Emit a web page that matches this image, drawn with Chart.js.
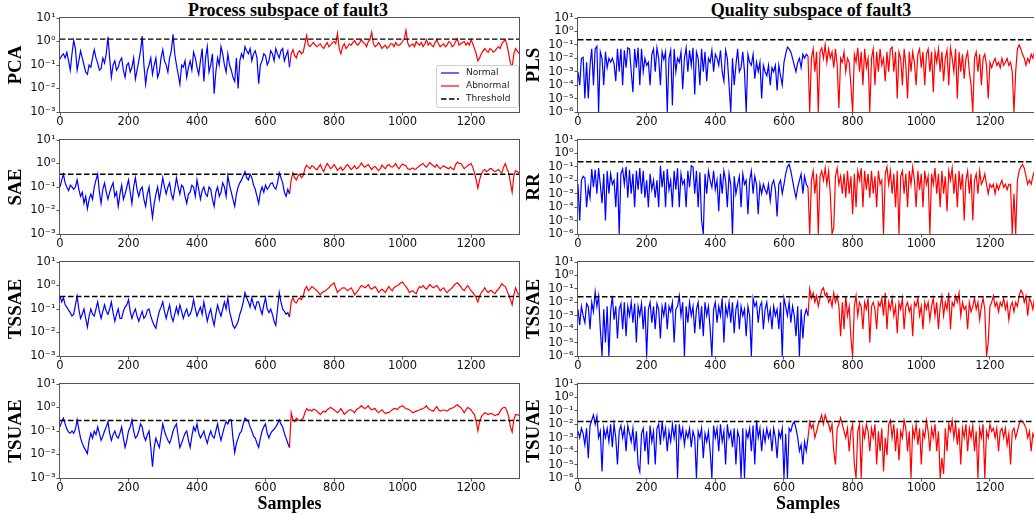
<!DOCTYPE html>
<html>
<head>
<meta charset="utf-8">
<script src="https://cdn.jsdelivr.net/npm/chart.js@4.4.1/dist/chart.umd.min.js"></script>
<style>
  html, body { margin: 0; padding: 0; background: #fff; }
  body { width: 1034px; height: 516px; position: relative; overflow: hidden; }
  canvas { position: absolute; }
  .coltitle {
    position: absolute; top: 0; width: 400px; text-align: center;
    font: bold 18px "Liberation Serif", "Times New Roman", serif; line-height: 20px; color: #000;
  }
</style>
</head>
<body>
<div class="coltitle" style="left:88px">Process subspace of fault3</div>
<div class="coltitle" style="left:611px">Quality subspace of fault3</div>
<script>
// axis ticks
const xTicks = [0, 200, 400, 600, 800, 1000, 1200];
const processTicks = [1e-3, 1e-2, 1e-1, 1, 10];
const processTickLabels = ['10⁻³', '10⁻²', '10⁻¹', '10⁰', '10¹'];
const qualityTicks = [1e-6, 1e-5, 1e-4, 1e-3, 1e-2, 1e-1, 1, 10];
const qualityTickLabels = ['10⁻⁶', '10⁻⁵', '10⁻⁴', '10⁻³', '10⁻²', '10⁻¹', '10⁰', '10¹'];
const sampleMax = 1340;
const faultStart = 670;
const sampleStep = 5;   // one stored value every 5 samples

// control limits
const pcaLimit = 1.26, saeLimit = 0.35, tssaeLimit = 0.34, tsuaeLimit = 0.28;
const plsLimit = 0.24, rrLimit = 0.24, tssaeQLimit = 0.026, tsuaeQLimit = 0.016;

// process subspace statistics
const pcaNormal = [
  0.18, 0.25, 0.3, 0.2, 0.35, 0.15, 0.06, 0.3, 1.1, 0.5,
  0.06, 0.15, 0.4, 0.2, 0.1, 0.05, 0.04, 0.1, 0.08, 0.2,
  0.45, 0.2, 0.12, 0.06, 0.07, 0.2, 0.12, 0.3, 1.6, 0.2,
  0.03, 0.1, 0.15, 0.06, 0.08, 0.15, 0.2, 0.06, 0.03, 0.1,
  0.12, 0.05, 0.08, 0.2, 0.025, 0.06, 0.15, 0.4, 1.7, 0.1,
  0.015, 0.06, 0.1, 0.2, 0.04, 0.1, 0.2, 0.03, 0.05, 0.2,
  0.45, 0.15, 0.1, 0.05, 0.2, 0.4, 2.0, 0.3, 0.1, 0.04,
  0.015, 0.1, 0.08, 0.15, 0.03, 0.08, 0.15, 0.06, 0.35, 0.2,
  0.08, 0.04, 0.15, 0.5, 0.02, 0.2, 0.6, 0.05, 0.1, 0.3,
  0.006, 0.05, 0.2, 0.1, 0.6, 0.3, 0.1, 0.05, 0.3, 0.1,
  0.06, 0.03, 0.02, 0.2, 0.01, 0.15, 0.3, 0.2, 0.6, 0.4,
  0.3, 0.5, 0.15, 0.3, 0.4, 0.2, 0.016, 0.1, 0.15, 0.3,
  0.25, 0.1, 0.15, 0.4, 0.3, 0.15, 0.5, 0.3, 0.2, 0.4,
  0.5, 0.15, 0.25, 0.4, 0.08
];
const pcaAbnormal = [
  0.08, 0.3, 0.45, 0.25, 0.2, 0.35, 0.4, 0.3, 0.35, 0.8,
  1.8, 0.7, 0.6, 0.75, 0.9, 0.7, 0.6, 0.7, 0.8, 0.6,
  0.5, 0.7, 0.9, 0.6, 0.7, 0.9, 1.0, 0.8, 2.2, 0.5,
  0.3, 0.6, 0.8, 0.5, 0.6, 0.8, 0.7, 0.9, 1.1, 0.8,
  0.7, 0.9, 1.2, 0.9, 0.8, 0.6, 1.0, 1.2, 2.5, 0.8,
  0.6, 0.7, 0.9, 0.7, 0.5, 0.6, 0.7, 0.5, 0.6, 0.8,
  0.8, 0.6, 0.9, 0.7, 0.7, 0.8, 1.0, 1.3, 3.0, 0.9,
  0.6, 0.7, 0.8, 0.6, 1.0, 0.8, 0.7, 0.9, 0.6, 0.8,
  1.2, 0.7, 0.9, 0.7, 0.6, 0.9, 1.2, 0.8, 0.6, 0.7,
  0.8, 0.6, 0.7, 1.0, 0.9, 0.6, 0.7, 1.0, 1.3, 0.7,
  0.8, 0.9, 1.0, 0.7, 0.9, 0.7, 1.2, 0.8, 0.5, 0.3,
  0.15, 0.2, 0.3, 0.4, 0.5, 0.4, 0.35, 0.5, 0.45, 0.35,
  0.4, 0.5, 0.6, 0.5, 0.8, 1.0, 1.2, 0.7, 0.3, 0.12,
  0.08, 0.3, 0.5, 0.4, 0.3
];
const saeNormal = [
  0.1, 0.2, 0.35, 0.15, 0.1, 0.07, 0.12, 0.1, 0.08, 0.1,
  0.2, 0.08, 0.04, 0.06, 0.02, 0.04, 0.012, 0.03, 0.05, 0.03,
  0.1, 0.2, 0.35, 0.06, 0.02, 0.08, 0.15, 0.06, 0.03, 0.06,
  0.1, 0.15, 0.04, 0.06, 0.015, 0.05, 0.12, 0.03, 0.05, 0.1,
  0.2, 0.06, 0.02, 0.1, 0.25, 0.08, 0.04, 0.08, 0.1, 0.03,
  0.015, 0.05, 0.1, 0.02, 0.005, 0.02, 0.05, 0.1, 0.03, 0.08,
  0.25, 0.1, 0.05, 0.1, 0.15, 0.05, 0.03, 0.08, 0.25, 0.1,
  0.05, 0.12, 0.1, 0.04, 0.02, 0.05, 0.06, 0.12, 0.1, 0.04,
  0.2, 0.08, 0.03, 0.07, 0.1, 0.05, 0.04, 0.1, 0.08, 0.03,
  0.015, 0.06, 0.1, 0.04, 0.06, 0.15, 0.1, 0.04, 0.3, 0.12,
  0.06, 0.03, 0.015, 0.05, 0.1, 0.15, 0.2, 0.3, 0.45, 0.25,
  0.2, 0.35, 0.25, 0.12, 0.08, 0.04, 0.02, 0.06, 0.1, 0.06,
  0.12, 0.08, 0.1, 0.14, 0.15, 0.1, 0.08, 0.15, 0.4, 0.25,
  0.15, 0.06, 0.04, 0.08, 0.05
];
const saeAbnormal = [
  0.05, 0.2, 0.4, 0.25, 0.2, 0.3, 0.35, 0.25, 0.3, 0.6,
  0.85, 0.7, 0.6, 0.8, 0.75, 0.6, 0.55, 0.7, 0.9, 0.6,
  0.45, 0.7, 1.0, 0.8, 0.6, 0.7, 0.9, 0.7, 0.5, 0.6,
  0.7, 0.5, 0.6, 0.8, 0.9, 0.7, 0.55, 0.65, 0.8, 0.6,
  0.65, 0.8, 1.05, 0.8, 0.7, 0.8, 0.9, 0.7, 0.55, 0.7,
  0.75, 0.6, 0.5, 0.6, 0.85, 0.7, 0.6, 0.8, 0.9, 0.75,
  0.7, 0.8, 1.0, 0.7, 0.6, 0.8, 0.95, 0.85, 0.8, 0.6,
  0.55, 0.6, 0.65, 0.55, 0.6, 0.7, 0.8, 0.9, 1.0, 0.8,
  0.7, 0.9, 1.1, 0.9, 0.8, 0.7, 0.9, 0.7, 0.6, 0.7,
  0.8, 0.7, 0.65, 0.6, 0.7, 0.6, 0.55, 0.9, 1.15, 1.0,
  1.0, 0.8, 0.6, 0.7, 0.8, 0.9, 1.0, 0.7, 0.4, 0.2,
  0.09, 0.2, 0.35, 0.5, 0.55, 0.45, 0.5, 0.6, 0.6, 0.5,
  0.45, 0.5, 0.55, 0.45, 0.4, 0.7, 1.0, 0.6, 0.4, 0.15,
  0.06, 0.3, 0.5, 0.45, 0.4
];
const tssaeNormal = [
  0.35, 0.2, 0.3, 0.15, 0.12, 0.09, 0.07, 0.05, 0.06, 0.15,
  0.35, 0.1, 0.04, 0.06, 0.1, 0.04, 0.017, 0.05, 0.1, 0.06,
  0.05, 0.1, 0.2, 0.08, 0.04, 0.08, 0.15, 0.08, 0.06, 0.1,
  0.2, 0.07, 0.03, 0.06, 0.1, 0.04, 0.04, 0.08, 0.12, 0.15,
  0.25, 0.08, 0.04, 0.07, 0.1, 0.05, 0.03, 0.05, 0.08, 0.04,
  0.05, 0.09, 0.1, 0.05, 0.03, 0.02, 0.015, 0.04, 0.08, 0.12,
  0.2, 0.08, 0.04, 0.08, 0.15, 0.05, 0.03, 0.06, 0.12, 0.06,
  0.15, 0.08, 0.04, 0.07, 0.1, 0.05, 0.06, 0.1, 0.25, 0.1,
  0.05, 0.08, 0.12, 0.06, 0.2, 0.08, 0.03, 0.06, 0.1, 0.04,
  0.02, 0.06, 0.15, 0.08, 0.05, 0.1, 0.2, 0.1, 0.3, 0.08,
  0.04, 0.02, 0.015, 0.02, 0.03, 0.06, 0.1, 0.2, 0.5, 0.3,
  0.2, 0.12, 0.3, 0.15, 0.1, 0.2, 0.2, 0.1, 0.06, 0.15,
  0.3, 0.1, 0.07, 0.1, 0.06, 0.03, 0.02, 0.1, 0.5, 0.2,
  0.1, 0.08, 0.06, 0.07, 0.045
];
const tssaeAbnormal = [
  0.045, 0.2, 0.3, 0.2, 0.18, 0.25, 0.3, 0.25, 0.35, 0.7,
  0.9, 0.6, 0.7, 0.9, 0.8, 0.7, 0.6, 0.5, 0.4, 0.5,
  0.55, 0.6, 0.7, 0.8, 1.0, 1.1, 1.3, 0.8, 0.5, 0.6,
  0.7, 0.8, 0.8, 0.7, 0.6, 0.7, 0.8, 0.6, 0.4, 0.5,
  0.6, 0.8, 1.0, 0.9, 0.8, 0.9, 1.1, 0.8, 0.7, 0.8,
  0.9, 0.7, 0.5, 0.6, 0.7, 0.6, 0.5, 0.7, 0.9, 0.7,
  0.6, 0.8, 0.9, 1.0, 1.1, 1.3, 1.4, 1.1, 0.9, 0.7,
  0.5, 0.55, 0.6, 0.5, 0.45, 0.7, 0.9, 0.8, 1.0, 0.8,
  0.7, 0.9, 1.1, 0.9, 0.8, 0.9, 1.0, 0.8, 0.6, 0.7,
  0.8, 0.6, 0.5, 0.6, 0.7, 0.8, 1.0, 1.2, 1.3, 1.1,
  0.9, 0.7, 0.6, 0.8, 1.0, 0.8, 0.6, 0.5, 0.4, 0.3,
  0.2, 0.35, 0.5, 0.6, 0.8, 0.6, 0.5, 0.6, 0.6, 0.5,
  0.45, 0.6, 0.7, 0.9, 1.2, 1.0, 0.9, 0.6, 0.4, 0.25,
  0.15, 0.4, 0.8, 0.5, 0.4
];
const tsuaeNormal = [
  0.15, 0.25, 0.35, 0.2, 0.12, 0.09, 0.08, 0.1, 0.08, 0.12,
  0.3, 0.12, 0.05, 0.03, 0.02, 0.015, 0.011, 0.04, 0.08, 0.05,
  0.1, 0.07, 0.15, 0.08, 0.04, 0.06, 0.1, 0.15, 0.25, 0.08,
  0.04, 0.07, 0.1, 0.06, 0.05, 0.08, 0.15, 0.05, 0.02, 0.04,
  0.1, 0.15, 0.3, 0.1, 0.05, 0.06, 0.1, 0.2, 0.15, 0.06,
  0.04, 0.07, 0.1, 0.02, 0.003, 0.02, 0.05, 0.03, 0.02, 0.06,
  0.2, 0.1, 0.06, 0.04, 0.03, 0.05, 0.1, 0.15, 0.2, 0.06,
  0.02, 0.03, 0.05, 0.08, 0.1, 0.04, 0.02, 0.06, 0.15, 0.1,
  0.2, 0.08, 0.05, 0.07, 0.1, 0.05, 0.03, 0.06, 0.1, 0.06,
  0.05, 0.1, 0.2, 0.08, 0.04, 0.08, 0.15, 0.25, 0.2, 0.3,
  0.3, 0.05, 0.012, 0.03, 0.05, 0.08, 0.1, 0.2, 0.35, 0.3,
  0.25, 0.15, 0.1, 0.06, 0.05, 0.03, 0.02, 0.05, 0.1, 0.15,
  0.2, 0.08, 0.05, 0.08, 0.1, 0.12, 0.15, 0.2, 0.3, 0.2,
  0.15, 0.08, 0.05, 0.03, 0.02
];
const tsuaeAbnormal = [
  0.02, 0.6, 0.3, 0.25, 0.35, 0.3, 0.28, 0.3, 0.35, 0.6,
  0.9, 0.75, 0.8, 0.7, 0.85, 0.8, 0.7, 0.6, 0.5, 0.6,
  0.7, 0.65, 0.8, 0.9, 1.0, 0.9, 0.8, 0.7, 0.6, 0.7,
  0.9, 0.7, 0.5, 0.6, 0.7, 0.8, 0.8, 0.7, 0.6, 0.8,
  0.9, 1.0, 1.2, 1.0, 0.9, 1.0, 1.2, 0.9, 0.8, 0.85,
  0.9, 0.7, 0.6, 0.7, 0.8, 0.65, 0.55, 0.6, 0.6, 0.7,
  0.8, 0.9, 0.9, 0.8, 1.0, 1.1, 1.2, 1.0, 0.9, 0.85,
  0.8, 0.7, 0.6, 0.65, 0.7, 0.75, 0.8, 0.85, 0.9, 1.0,
  1.2, 0.9, 0.8, 0.75, 0.7, 0.9, 1.1, 0.8, 0.7, 0.75,
  0.8, 0.75, 0.7, 0.8, 0.9, 0.95, 1.0, 1.2, 1.3, 1.1,
  1.0, 0.8, 0.6, 0.8, 1.0, 0.9, 0.8, 0.6, 0.5, 0.25,
  0.1, 0.25, 0.4, 0.5, 0.6, 0.55, 0.5, 0.55, 0.55, 0.5,
  0.45, 0.5, 0.5, 0.7, 0.9, 1.0, 1.0, 0.7, 0.4, 0.15,
  0.09, 0.3, 0.5, 0.5, 0.45
];

// quality subspace statistics
const plsNormal = [
  1e-3, 1e-4, 1e-2, 1.2e-2, 1e-5, 5e-3, 1e-5, 3e-3, 5e-2, 1e-4,
  5e-2, 8e-2, 1e-6, 3e-2, 1e-2, 1e-4, 3e-2, 2e-3, 1e-2, 5e-3,
  1e-2, 4e-3, 2e-4, 5e-2, 1e-3, 5e-2, 1e-4, 4e-2, 2e-3, 6e-2,
  5e-2, 1e-3, 3e-5, 5e-2, 2e-3, 6e-2, 1e-4, 5e-2, 1e-3, 1e-2,
  3e-3, 5e-3, 1e-4, 2e-2, 5e-2, 1e-3, 6e-2, 1e-2, 1e-4, 3e-2,
  8e-3, 3e-2, 1e-6, 1e-2, 4e-2, 3e-6, 5e-2, 1e-3, 1e-2, 5e-3,
  3e-2, 5e-5, 1e-2, 6e-2, 1e-3, 4e-2, 3e-3, 6e-2, 2e-5, 3e-2,
  1e-2, 1e-4, 5e-2, 1e-3, 3e-2, 2e-4, 1e-2, 5e-3, 4e-2, 1e-3,
  2e-2, 1e-2, 3e-3, 4e-2, 1e-3, 2e-4, 4e-2, 1e-2, 1e-4, 1e-6,
  1e-2, 1e-4, 3e-3, 5e-2, 1e-3, 2e-3, 3e-2, 1e-3, 1e-6, 2e-2,
  5e-3, 3e-3, 2e-2, 3e-4, 5e-3, 1e-3, 5e-3, 1e-5, 3e-3, 1e-3,
  5e-4, 3e-3, 1e-4, 2e-3, 1e-3, 3e-3, 4e-5, 3e-3, 5e-4, 1e-4,
  5e-3, 2e-2, 7e-2, 5e-2, 3e-2, 1e-2, 3e-3, 1e-3, 5e-3, 1e-2,
  2e-3, 2e-2, 1e-2, 2e-2, 1.5e-2
];
const plsAbnormal = [
  1.5e-2, 1e-6, 1e-2, 5e-2, 1e-3, 3e-2, 1e-6, 3e-2, 6e-2, 1e-2,
  1e-1, 5e-3, 5e-2, 1e-2, 3e-2, 2e-3, 5e-2, 3e-3, 2e-6, 1e-2,
  5e-3, 3e-2, 1e-3, 1e-2, 5e-3, 1e-4, 1e-6, 2e-2, 5e-3, 6e-2,
  1e-3, 3e-2, 1e-4, 5e-2, 2e-3, 1e-2, 1e-6, 1e-2, 5e-2, 1e-4,
  3e-2, 1e-3, 5e-2, 3e-3, 1e-2, 2e-4, 3e-2, 1e-3, 5e-2, 7e-2,
  1e-3, 3e-2, 1e-5, 3e-2, 1e-2, 1e-4, 5e-2, 3e-3, 1e-5, 3e-2,
  1e-3, 3e-2, 5e-3, 1e-4, 2e-2, 5e-2, 2e-3, 3e-2, 1e-4, 2e-2,
  5e-2, 1e-3, 3e-2, 3e-5, 3e-2, 5e-3, 5e-2, 1e-3, 3e-2, 2e-4,
  1e-2, 4e-2, 1e-4, 6e-2, 1e-2, 1e-3, 5e-2, 1e-5, 3e-2, 1e-3,
  2e-2, 3e-4, 1e-2, 3e-2, 1e-3, 1e-4, 1e-6, 1e-2, 3e-2, 1e-3,
  2e-2, 1e-4, 1e-2, 2e-2, 3e-3, 1e-5, 5e-3, 2e-3, 5e-3, 1e-2,
  3e-3, 5e-3, 2e-3, 1e-2, 3e-3, 5e-3, 1e-2, 3e-3, 5e-3, 1e-3,
  1e-6, 1e-3, 5e-2, 1e-1, 5e-2, 2e-2, 1e-2, 3e-3, 1e-2, 5e-3,
  2e-2, 1e-2, 3e-2, 2e-2, 3e-2
];
const rrNormal = [
  5e-3, 1e-5, 1e-2, 2e-2, 1.5e-2, 1e-4, 3e-3, 5e-4, 7e-2, 3e-3,
  6e-2, 1e-3, 8e-2, 5e-3, 2e-4, 3e-2, 1e-5, 5e-2, 1e-3, 3e-2,
  5e-3, 1e-2, 1e-4, 4e-2, 1e-6, 3e-2, 7e-2, 5e-3, 1e-1, 5e-4,
  6e-2, 1e-3, 3e-2, 1e-4, 5e-2, 2e-3, 8e-2, 1e-3, 5e-2, 5e-4,
  1e-2, 1e-4, 3e-2, 2e-3, 1e-2, 5e-4, 1e-2, 1e-4, 1.2e-1, 3e-3,
  5e-2, 1e-4, 7e-2, 2e-3, 1e-2, 1e-4, 5e-2, 2e-3, 8e-2, 1e-4,
  3e-2, 5e-3, 1e-2, 1e-4, 5e-2, 3e-3, 1.2e-1, 1e-1, 1e-3, 5e-2,
  1e-4, 4e-2, 1e-5, 1e-6, 3e-2, 1e-3, 5e-2, 1e-2, 3e-3, 5e-2,
  2e-3, 1e-2, 5e-5, 3e-2, 1e-3, 5e-2, 1e-2, 1e-4, 3e-2, 5e-3,
  1e-6, 2e-2, 1e-3, 5e-3, 2e-2, 1e-4, 3e-2, 5e-3, 1e-2, 3e-5,
  1e-2, 5e-2, 1e-3, 2e-2, 5e-3, 3e-5, 5e-3, 1e-3, 5e-3, 2e-3,
  1e-3, 5e-3, 3e-4, 5e-3, 1e-2, 2e-3, 2e-5, 5e-3, 1e-2, 1e-3,
  5e-3, 3e-2, 1e-1, 1.5e-1, 5e-2, 1e-2, 2e-3, 5e-4, 3e-3, 1e-2,
  3e-2, 1e-3, 2e-2, 5e-3, 3e-3
];
const rrAbnormal = [
  3e-3, 1e-6, 1e-2, 5e-2, 1e-3, 3e-2, 1e-6, 2e-2, 5e-2, 1e-2,
  8e-2, 5e-3, 5e-2, 1e-3, 1e-6, 3e-6, 2e-2, 8e-2, 5e-3, 2e-2,
  1e-3, 3e-2, 5e-4, 5e-2, 1e-3, 2e-2, 3e-5, 3e-2, 1e-4, 5e-2,
  1e-2, 8e-2, 1e-4, 5e-2, 2e-3, 3e-2, 5e-4, 5e-2, 1e-3, 2e-2,
  1e-4, 5e-2, 5e-3, 1e-2, 1e-6, 3e-2, 1e-1, 5e-3, 5e-2, 1e-3,
  3e-2, 1e-4, 5e-2, 1e-6, 2e-2, 5e-2, 1e-3, 3e-2, 1e-4, 5e-2,
  5e-3, 1e-1, 1e-2, 1e-4, 5e-2, 2e-3, 3e-2, 1e-4, 5e-2, 5e-3,
  2e-2, 1e-6, 3e-2, 5e-3, 8e-2, 1e-3, 3e-2, 1e-4, 5e-2, 1e-3,
  2e-2, 5e-5, 5e-2, 1e-2, 8e-2, 1e-3, 3e-2, 1e-4, 5e-2, 2e-3,
  3e-2, 1e-5, 1e-2, 5e-2, 1e-3, 3e-2, 1e-5, 1e-2, 3e-2, 1e-3,
  5e-2, 5e-3, 1e-2, 3e-2, 5e-3, 1e-3, 5e-3, 3e-3, 5e-3, 1e-3,
  5e-3, 2e-3, 5e-3, 1e-2, 3e-3, 5e-3, 2e-3, 5e-3, 5e-3, 1e-6,
  1e-3, 1e-6, 1e-2, 5e-2, 1e-1, 1.5e-1, 8e-2, 2e-2, 5e-3, 1e-2,
  5e-3, 2e-2, 5e-2, 2e-2, 4e-2
];
const tssaeQNormal = [
  3e-3, 2e-4, 5e-3, 1e-3, 3e-4, 8e-3, 5e-3, 1e-4, 1e-2, 2e-3,
  6e-2, 5e-3, 3e-2, 1e-4, 1e-6, 3e-3, 1e-5, 5e-3, 1e-6, 2e-3,
  3e-2, 5e-4, 5e-3, 2e-5, 3e-3, 8e-3, 1e-4, 1e-2, 3e-5, 5e-3,
  1e-3, 1e-2, 3e-4, 8e-3, 1e-5, 5e-3, 1e-3, 8e-3, 1e-4, 5e-3,
  1e-6, 3e-3, 1e-2, 3e-4, 5e-3, 1e-4, 8e-3, 3e-3, 2e-5, 5e-3,
  1e-3, 1e-2, 1e-4, 5e-3, 2e-3, 1e-2, 1e-5, 3e-3, 5e-3, 3e-2,
  1e-3, 1e-2, 1e-6, 5e-3, 3e-4, 1e-2, 1e-3, 5e-3, 5e-5, 3e-3,
  1e-2, 1e-4, 5e-3, 3e-5, 1e-2, 1e-3, 5e-3, 1e-4, 1e-6, 3e-3,
  1e-2, 3e-4, 5e-3, 1e-3, 2e-2, 1e-5, 5e-3, 1e-3, 1e-2, 3e-4,
  1e-2, 5e-5, 3e-3, 1e-2, 1e-4, 5e-3, 1e-3, 3e-3, 3e-5, 5e-3,
  1e-3, 1e-6, 2e-2, 5e-3, 1e-2, 3e-4, 5e-3, 1e-2, 1e-4, 3e-3,
  1e-2, 5e-4, 3e-3, 1e-4, 5e-3, 1e-3, 3e-3, 1e-4, 1e-2, 1e-6,
  2e-2, 5e-3, 1e-3, 1e-2, 3e-4, 5e-3, 1e-3, 3e-5, 5e-3, 1e-6,
  3e-3, 2e-5, 1e-3, 3e-3, 1e-3
];
const tssaeQAbnormal = [
  1e-3, 1e-1, 2e-2, 5e-2, 1e-2, 3e-2, 5e-3, 2e-2, 8e-2, 1.2e-1,
  3e-2, 5e-2, 1e-2, 2e-2, 5e-3, 5e-2, 1e-2, 3e-2, 5e-3, 3e-5,
  1e-2, 1e-4, 3e-2, 1e-3, 5e-3, 2e-5, 1e-6, 5e-3, 3e-2, 1e-3,
  1e-2, 5e-3, 1e-4, 1e-2, 3e-3, 2e-2, 1e-5, 5e-3, 1e-2, 3e-3,
  1e-4, 1e-2, 5e-3, 2e-2, 1e-3, 5e-2, 1e-4, 1e-2, 3e-3, 2e-2,
  1e-3, 5e-3, 5e-5, 1e-2, 3e-3, 2e-2, 1e-4, 5e-3, 1e-2, 2e-3,
  5e-3, 3e-5, 1e-2, 5e-3, 2e-2, 1e-3, 5e-3, 1e-4, 1e-2, 3e-3,
  1e-2, 5e-4, 5e-3, 2e-2, 1e-3, 1e-2, 1e-4, 5e-3, 3e-2, 1e-3,
  1e-2, 3e-3, 5e-2, 1e-4, 1e-2, 5e-3, 3e-2, 1e-2, 5e-2, 1e-3,
  1e-2, 3e-3, 5e-3, 1e-4, 1e-2, 2e-3, 5e-3, 2e-2, 3e-3, 1e-2,
  5e-4, 5e-3, 2e-2, 3e-3, 1e-6, 1e-5, 5e-3, 1e-2, 3e-2, 5e-3,
  1e-2, 2e-3, 1e-2, 5e-3, 2e-2, 3e-3, 1e-2, 5e-4, 5e-3, 1e-2,
  2e-3, 1e-2, 5e-3, 3e-2, 8e-2, 5e-2, 1e-2, 3e-2, 1e-3, 2e-2,
  1e-2, 3e-3, 2e-2, 3e-2, 1e-2
];
const tsuaeQNormal = [
  3e-3, 1e-3, 5e-3, 2e-3, 3e-4, 5e-3, 3e-5, 8e-3, 2e-2, 5e-2,
  1e-2, 4e-2, 1e-3, 3e-3, 3e-6, 5e-3, 1e-3, 5e-3, 5e-4, 1e-2,
  2e-4, 1e-2, 1e-3, 1e-5, 3e-3, 8e-3, 1e-3, 5e-3, 1e-4, 8e-3,
  2e-3, 5e-4, 5e-3, 1e-4, 3e-3, 1e-5, 3e-6, 2e-3, 5e-3, 1e-4,
  3e-3, 1e-5, 8e-3, 5e-4, 3e-3, 1e-5, 5e-3, 1e-2, 3e-4, 1.5e-2,
  1e-3, 5e-3, 1e-4, 3e-3, 5e-4, 1e-2, 1e-3, 1e-2, 1e-6, 1e-2,
  1e-3, 5e-3, 3e-4, 3e-3, 1e-3, 5e-3, 2e-4, 3e-3, 1e-3, 1e-6,
  3e-3, 1e-3, 5e-3, 3e-5, 2e-3, 5e-4, 3e-3, 1e-4, 1e-6, 8e-3,
  1e-3, 5e-3, 1e-4, 1e-2, 5e-4, 3e-3, 1e-5, 1e-2, 1e-3, 3e-3,
  2e-4, 5e-3, 1e-5, 3e-3, 1e-3, 1e-6, 5e-3, 1e-6, 3e-3, 1e-3,
  5e-3, 1e-4, 8e-3, 1e-5, 2e-2, 1e-3, 5e-3, 1e-4, 3e-3, 5e-4,
  5e-3, 1e-3, 3e-3, 1e-4, 5e-3, 1e-3, 3e-5, 3e-3, 1e-3, 5e-3,
  1e-6, 2e-3, 1e-6, 5e-3, 3e-3, 1e-2, 1.5e-2, 5e-3, 1e-3, 1e-4,
  3e-4, 1e-5, 5e-4, 1e-4, 1e-3
];
const tsuaeQAbnormal = [
  1e-3, 1.5e-2, 5e-3, 1e-2, 1e-3, 3e-3, 1e-2, 2e-2, 5e-2, 1e-2,
  5e-2, 2e-2, 1e-2, 3e-3, 1e-2, 1e-4, 1e-5, 5e-3, 1e-2, 3e-2,
  1e-2, 3e-3, 1e-3, 5e-3, 1e-4, 3e-3, 1e-2, 1e-5, 1e-6, 3e-3,
  1e-2, 1e-6, 5e-3, 1e-3, 1e-2, 3e-3, 1e-4, 5e-3, 1e-3, 1e-2,
  1e-5, 3e-3, 1e-4, 5e-3, 3e-6, 1e-3, 5e-5, 1e-2, 2e-2, 1e-3,
  1e-2, 1e-4, 5e-3, 2e-5, 3e-3, 1e-3, 2e-2, 5e-3, 1e-4, 3e-3,
  1e-6, 5e-3, 1e-3, 1e-2, 3e-4, 5e-3, 1e-5, 3e-3, 1e-3, 2e-2,
  3e-3, 1e-4, 5e-3, 1e-3, 1e-2, 1e-4, 3e-3, 1e-6, 3e-5, 2e-6,
  5e-3, 1e-4, 1e-2, 3e-3, 2e-2, 1e-3, 1e-2, 3e-4, 5e-3, 1e-5,
  5e-3, 1e-3, 1e-2, 1e-4, 5e-3, 1e-3, 8e-3, 1e-4, 3e-3, 1e-6,
  5e-3, 1e-3, 1e-2, 1e-6, 3e-3, 1e-3, 1e-2, 3e-3, 5e-3, 1e-3,
  5e-3, 1e-4, 3e-3, 5e-3, 1e-3, 5e-3, 3e-4, 2e-3, 1e-5, 3e-3,
  5e-3, 1e-3, 3e-3, 1e-2, 2e-2, 1.5e-2, 1e-2, 5e-3, 1e-3, 3e-3,
  1e-4, 2e-3, 1e-3, 5e-4, 1e-3
];

const panels = [
  { name: 'PCA',   col: 0, row: 0, normal: pcaNormal,    abnormal: pcaAbnormal,    limit: pcaLimit, legend: true },
  { name: 'SAE',   col: 0, row: 1, normal: saeNormal,    abnormal: saeAbnormal,    limit: saeLimit },
  { name: 'TSSAE', col: 0, row: 2, normal: tssaeNormal,  abnormal: tssaeAbnormal,  limit: tssaeLimit },
  { name: 'TSUAE', col: 0, row: 3, normal: tsuaeNormal,  abnormal: tsuaeAbnormal,  limit: tsuaeLimit },
  { name: 'PLS',   col: 1, row: 0, normal: plsNormal,    abnormal: plsAbnormal,    limit: plsLimit },
  { name: 'RR',    col: 1, row: 1, normal: rrNormal,     abnormal: rrAbnormal,     limit: rrLimit },
  { name: 'TSSAE', col: 1, row: 2, normal: tssaeQNormal, abnormal: tssaeQAbnormal, limit: tssaeQLimit },
  { name: 'TSUAE', col: 1, row: 3, normal: tsuaeQNormal, abnormal: tsuaeQAbnormal, limit: tsuaeQLimit }
];

const rowTops = [8, 130, 252, 374];
const serif = '"Liberation Serif", "Times New Roman", serif';
const sans = '"DejaVu Sans", sans-serif';
const spine = '#555';

function toPoints(values, start) {
  return values.map((v, i) => ({ x: start + i * sampleStep, y: v }));
}

// box around the plotting area, like matplotlib spines
const framePlugin = {
  id: 'frame',
  afterDraw(chart) {
    const { ctx, chartArea: a } = chart;
    ctx.save();
    ctx.strokeStyle = spine;
    ctx.lineWidth = 1;
    ctx.strokeRect(Math.round(a.left) - 0.5, Math.round(a.top) - 0.5,
                   Math.round(a.right - a.left) + 1, Math.round(a.bottom - a.top) + 1);
    ctx.restore();
  }
};

// legend drawn inside the lower right corner of the axes
const cornerLegend = {
  id: 'cornerLegend',
  afterDraw(chart, args, opts) {
    if (!opts.show) return;
    const { ctx, chartArea: a } = chart;
    const w = 82, h = 42;
    const x0 = a.right - w - 1, y0 = a.bottom - h - 5;
    ctx.save();
    ctx.fillStyle = 'rgba(255,255,255,0.85)';
    ctx.strokeStyle = '#cfcfcf';
    ctx.lineWidth = 1;
    ctx.beginPath();
    ctx.roundRect(x0 + 0.5, y0 + 0.5, w, h, 2);
    ctx.fill();
    ctx.stroke();
    ctx.font = '9px ' + sans;
    ctx.textBaseline = 'middle';
    chart.data.datasets.forEach((ds, i) => {
      const y = y0 + 8 + i * 13;
      ctx.strokeStyle = ds.borderColor;
      ctx.lineWidth = ds.borderWidth;
      ctx.setLineDash(ds.borderDash || []);
      ctx.beginPath();
      ctx.moveTo(x0 + 5, y);
      ctx.lineTo(x0 + 23, y);
      ctx.stroke();
      ctx.setLineDash([]);
      ctx.fillStyle = '#222';
      ctx.fillText(ds.label, x0 + 30, y);
    });
    ctx.restore();
  }
};

panels.forEach(p => {
  const canvas = document.createElement('canvas');
  const lastRow = p.row === 3;
  canvas.width = p.col === 0 ? 521 : 522;
  canvas.height = lastRow ? 148 : 128;
  canvas.style.left = (p.col === 0 ? 0 : 518) + 'px';
  canvas.style.top = rowTops[p.row] + 'px';
  document.body.appendChild(canvas);

  const quality = p.col === 1;
  const yTicks = quality ? qualityTicks : processTicks;
  const yLabels = quality ? qualityTickLabels : processTickLabels;

  new Chart(canvas, {
    type: 'line',
    data: {
      datasets: [
        { label: 'Normal', data: toPoints(p.normal, 0), borderColor: '#0000ff', borderWidth: 1.2, order: 1 },
        { label: 'Abnormal', data: toPoints(p.abnormal, faultStart), borderColor: '#ff0000', borderWidth: 1.2, order: 1 },
        { label: 'Threshold', data: [{ x: 0, y: p.limit }, { x: sampleMax, y: p.limit }],
          borderColor: '#000', borderWidth: 1.4, borderDash: [5.5, 2.5], order: 0 }
      ]
    },
    options: {
      responsive: false,
      animation: false,
      events: [],
      layout: { padding: { top: 10, right: 2, left: 0, bottom: 0 } },
      elements: { point: { radius: 0 }, line: { tension: 0, fill: false } },
      plugins: {
        legend: { display: false },
        tooltip: { enabled: false },
        cornerLegend: { show: !!p.legend }
      },
      scales: {
        x: {
          type: 'linear', min: 0, max: sampleMax,
          afterBuildTicks: s => { s.ticks = xTicks.map(v => ({ value: v })); },
          afterFit: s => { s.height = lastRow ? 44 : 24; },
          ticks: { autoSkip: false, maxRotation: 0, padding: 0, color: '#111',
                   font: { family: sans, size: 11.5 }, callback: v => String(v) },
          grid: { display: true, drawOnChartArea: false, drawTicks: true, tickLength: 3.5, color: spine },
          border: { display: false },
          title: { display: lastRow, text: 'Samples', color: '#000',
                   font: { family: serif, size: 18, weight: 'bold' }, padding: { top: 0, bottom: 7 } }
        },
        y: {
          type: 'logarithmic', min: yTicks[0], max: yTicks[yTicks.length - 1],
          afterBuildTicks: s => { s.ticks = yTicks.map(v => ({ value: v })); },
          afterFit: s => { s.width = 60; },
          ticks: { autoSkip: false, padding: 1, color: '#111',
                   font: { family: sans, size: 11.5 },
                   callback: (v) => yLabels[yTicks.findIndex(t => Math.abs(Math.log10(t) - Math.log10(v)) < 1e-6)] },
          grid: { display: true, drawOnChartArea: false, drawTicks: true, tickLength: 3.5, color: spine },
          border: { display: false },
          title: { display: true, text: p.name, color: '#000',
                   font: { family: serif, size: 19, weight: 'bold' }, padding: { top: 5, bottom: 0 } }
        }
      }
    },
    plugins: [framePlugin, cornerLegend]
  });
});
</script>
</body>
</html>
